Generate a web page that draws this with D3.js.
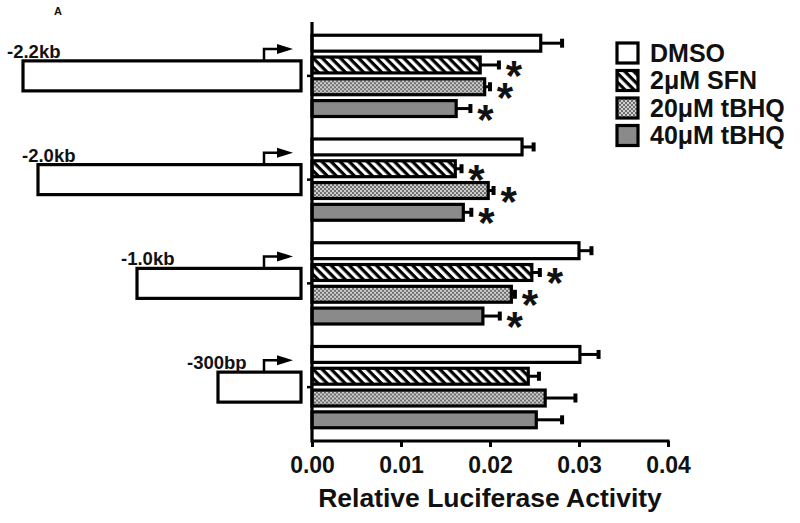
<!DOCTYPE html>
<html>
<head>
<meta charset="utf-8">
<script src="https://cdn.jsdelivr.net/npm/d3@7/dist/d3.min.js"></script>
<style>
  html, body { margin: 0; padding: 0; background: #fff; }
  svg { display: block; }
  text { font-family: "Liberation Sans", Arial, sans-serif; font-weight: bold; fill: #111; }
</style>
</head>
<body>
<svg id="chart" width="800" height="523"></svg>
<script>
// ---- data ----
const groups = ["-2.2kb", "-2.0kb", "-1.0kb", "-300bp"];
const promoterKb = [2.2, 2.0, 1.0, 0.3];
const series = ["DMSO", "2\u03bcM SFN", "20\u03bcM tBHQ", "40\u03bcM tBHQ"];
const dmso      = [0.0257, 0.0236, 0.0300, 0.0301];
const sfn       = [0.0189, 0.0161, 0.0247, 0.0243];
const tbhq20    = [0.0194, 0.0198, 0.0224, 0.0262];
const tbhq40    = [0.0162, 0.0170, 0.0192, 0.0252];
const dmsoErr   = [0.0024, 0.0013, 0.0014, 0.0021];
const sfnErr    = [0.0021, 0.0007, 0.0009, 0.0012];
const tbhq20Err = [0.0006, 0.0006, 0.0004, 0.0034];
const tbhq40Err = [0.0016, 0.0009, 0.0019, 0.0029];
const dmsoSig   = [false, false, false, false];
const sfnSig    = [true, true, true, false];
const tbhq20Sig = [true, true, true, false];
const tbhq40Sig = [true, true, true, false];
const xTicks = [0, 0.01, 0.02, 0.03, 0.04];
const xLabel = "Relative Luciferase Activity";
const panelLabel = "A";

const values = [dmso, sfn, tbhq20, tbhq40];
const errs = [dmsoErr, sfnErr, tbhq20Err, tbhq40Err];
const sigs = [dmsoSig, sfnSig, tbhq20Sig, tbhq40Sig];

const svg = d3.select("#chart");

// patterns
const defs = svg.append("defs");
const stripe = defs.append("pattern").attr("id", "stripe")
  .attr("patternUnits", "userSpaceOnUse").attr("width", 6.4).attr("height", 6.4)
  .attr("patternTransform", "rotate(-45)");
stripe.append("rect").attr("width", 6.4).attr("height", 6.4).attr("fill", "#000");
stripe.append("rect").attr("width", 3.2).attr("height", 6.4).attr("fill", "#fff");

const dots = defs.append("pattern").attr("id", "dots")
  .attr("patternUnits", "userSpaceOnUse").attr("width", 4).attr("height", 4);
dots.append("rect").attr("width", 4).attr("height", 4).attr("fill", "#cfcfcf");
dots.append("rect").attr("width", 2).attr("height", 2).attr("fill", "#6e6e6e");
dots.append("rect").attr("x", 2).attr("y", 2).attr("width", 2).attr("height", 2).attr("fill", "#6e6e6e");

const fills = ["#ffffff", "url(#stripe)", "url(#dots)", "#8a8a8a"];

// scales
const x = d3.scaleLinear().domain([0, 0.04]).range([312, 668]);
const y0 = d3.scaleBand().domain(groups).range([24, 439]).paddingInner(0.16).paddingOuter(0.08);
const y1 = d3.scaleBand().domain(series).range([0, y0.bandwidth()]).paddingInner(0.27).paddingOuter(0.135);
const boxLeft = d3.scaleLinear().domain([0.3, 1.0, 2.0, 2.2]).range([218, 137, 38, 23]);

// panel label
svg.append("text").attr("x", 54).attr("y", 15).attr("font-size", 11).text(panelLabel);

// bars
const gGroups = svg.append("g").selectAll("g").data(groups).join("g")
  .attr("transform", d => `translate(0,${y0(d)})`);

gGroups.each(function(g, gi) {
  const sel = d3.select(this);
  series.forEach((s, si) => {
    const v = values[si][gi], e = errs[si][gi];
    const yy = y1(s), h = y1.bandwidth(), cy = yy + h / 2;
    // error bar
    sel.append("line").attr("x1", x(v)).attr("x2", x(v + e)).attr("y1", cy).attr("y2", cy)
      .attr("stroke", "#000").attr("stroke-width", 3);
    sel.append("line").attr("x1", x(v + e)).attr("x2", x(v + e)).attr("y1", cy - 4.5).attr("y2", cy + 4.5)
      .attr("stroke", "#000").attr("stroke-width", 4);
    sel.append("rect").attr("x", x(0)).attr("y", yy).attr("width", x(v) - x(0)).attr("height", h)
      .attr("fill", fills[si]).attr("stroke", "#000").attr("stroke-width", 3.2);
    if (sigs[si][gi]) {
      sel.append("text").attr("x", x(v + e) + 15).attr("y", cy + 25)
        .attr("text-anchor", "middle").attr("font-size", 42).text("*");
    }
  });
});

// axes
const xAxis = svg.append("g").attr("transform", "translate(0,441)")
  .call(d3.axisBottom(x).tickValues(xTicks).tickFormat(d3.format(".2f")).tickSize(6).tickPadding(10));
xAxis.select(".domain").attr("stroke", "#000").attr("stroke-width", 3.2).attr("d", `M${x(0)},0H${x(0.04) + 1.5}`);
xAxis.selectAll(".tick line").attr("stroke", "#000").attr("stroke-width", 3);
xAxis.selectAll(".tick text").attr("font-size", 23).attr("font-family", "Liberation Sans, Arial, sans-serif")
  .attr("font-weight", "bold").attr("fill", "#111").attr("dy", "0.71em");

const yAxis = svg.append("g").attr("transform", `translate(${x(0)},0)`)
  .call(d3.axisLeft(y0).tickSize(5).tickFormat(""));
yAxis.select(".domain").attr("stroke", "#000").attr("stroke-width", 3.2).attr("d", "M0,22V442.6");
yAxis.selectAll(".tick line").attr("stroke", "#000").attr("stroke-width", 2.5);

svg.append("text").attr("x", (x(0) + x(0.04)) / 2).attr("y", 507).attr("text-anchor", "middle")
  .attr("font-size", 26.5).text(xLabel);

// promoter diagrams
groups.forEach((g, gi) => {
  const cy = y0(g) + y0.bandwidth() / 2;
  const left = boxLeft(promoterKb[gi]);
  const right = 301;
  const top = cy - 15;
  svg.append("rect").attr("x", left).attr("y", top).attr("width", right - left).attr("height", 30)
    .attr("fill", "#fff").attr("stroke", "#000").attr("stroke-width", 3.2);
  const ax = 264;
  svg.append("path").attr("d", `M${ax},${top}V${top - 12}H${ax + 15}`)
    .attr("fill", "none").attr("stroke", "#000").attr("stroke-width", 2.5);
  svg.append("path").attr("d", `M${ax + 13},${top - 17}L${ax + 29},${top - 12}L${ax + 13},${top - 7}Z`)
    .attr("fill", "#000");
  svg.append("text").attr("x", gi === 3 ? left - 31 : left - 16).attr("y", top - 3)
    .attr("font-size", 18.5).text(g);
});

// legend
const legend = svg.append("g").selectAll("g").data(series).join("g")
  .attr("transform", (d, i) => `translate(617,${43 + i * 27.5})`);
legend.append("rect").attr("width", 21).attr("height", 20)
  .attr("fill", (d, i) => fills[i]).attr("stroke", "#000").attr("stroke-width", 3.2);
legend.append("text").attr("x", 33).attr("y", 18.5).attr("font-size", 25).text(d => d);
</script>
</body>
</html>
